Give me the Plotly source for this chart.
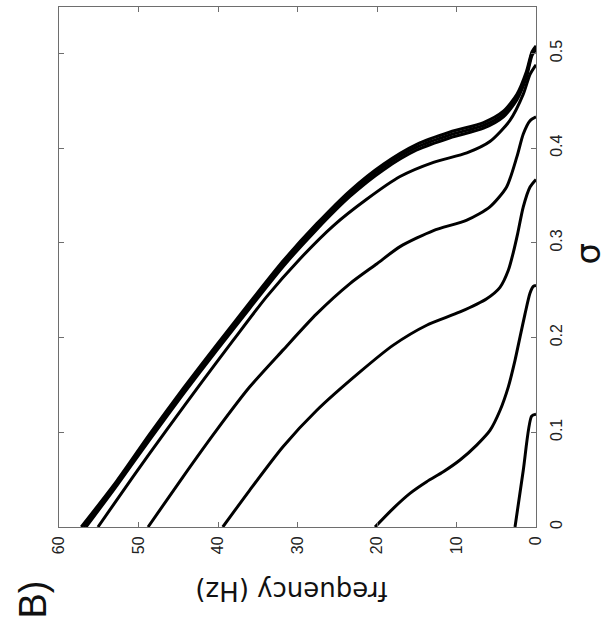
import plotly.graph_objects as go

# Frequency (Hz) vs sigma for eight curves
sigma_1 = [0.000, 0.049, 0.098, 0.146, 0.192, 0.237, 0.281, 0.320, 0.355, 0.383, 0.404, 0.417, 0.427, 0.439, 0.457, 0.481, 0.502, 0.508]
freq_1 = [57.2, 52.7, 48.6, 44.4, 40.2, 36.0, 31.8, 27.6, 23.4, 19.2, 15.0, 10.8, 6.6, 4.1, 2.4, 1.2, 0.5, 0.0]

sigma_2 = [0.000, 0.047, 0.095, 0.143, 0.189, 0.234, 0.278, 0.317, 0.352, 0.380, 0.401, 0.414, 0.424, 0.436, 0.454, 0.478, 0.500, 0.506]
freq_2 = [56.9, 52.7, 48.6, 44.4, 40.2, 36.0, 31.8, 27.6, 23.4, 19.2, 15.0, 10.8, 6.6, 4.1, 2.4, 1.2, 0.5, 0.0]

sigma_3 = [0.000, 0.044, 0.092, 0.140, 0.186, 0.231, 0.275, 0.314, 0.349, 0.377, 0.398, 0.411, 0.421, 0.433, 0.451, 0.475, 0.498, 0.504]
freq_3 = [56.6, 52.7, 48.6, 44.4, 40.2, 36.0, 31.8, 27.6, 23.4, 19.2, 15.0, 10.8, 6.6, 4.1, 2.4, 1.2, 0.5, 0.0]

sigma_4 = [0.000, 0.053, 0.102, 0.150, 0.197, 0.243, 0.283, 0.318, 0.346, 0.370, 0.385, 0.395, 0.407, 0.429, 0.457, 0.478, 0.488]
freq_4 = [55.1, 50.7, 46.5, 42.3, 38.1, 33.9, 29.7, 25.5, 21.3, 17.1, 12.9, 8.7, 5.8, 3.3, 1.6, 0.75, 0.0]

sigma_5 = [0.000, 0.053, 0.102, 0.148, 0.187, 0.225, 0.257, 0.278, 0.296, 0.313, 0.324, 0.338, 0.359, 0.391, 0.415, 0.429, 0.433]
freq_5 = [48.8, 44.4, 40.2, 36.0, 31.8, 27.6, 23.4, 20.0, 17.1, 12.9, 8.7, 5.8, 3.7, 2.4, 1.6, 0.75, 0.0]

sigma_6 = [0.000, 0.039, 0.085, 0.123, 0.164, 0.192, 0.213, 0.227, 0.241, 0.253, 0.271, 0.290, 0.310, 0.338, 0.359, 0.367]
freq_6 = [39.4, 36.0, 31.8, 27.6, 22.1, 17.95, 13.75, 9.56, 6.2, 4.53, 3.48, 2.85, 2.3, 1.6, 0.75, 0.0]

sigma_7 = [0.000, 0.0197, 0.0355, 0.0478, 0.0583, 0.0707, 0.0865, 0.102, 0.123, 0.148, 0.176, 0.201, 0.225, 0.247, 0.254, 0.255]
freq_7 = [20.25, 17.95, 15.85, 13.75, 11.66, 9.56, 7.46, 5.79, 4.53, 3.48, 2.64, 2.0, 1.38, 0.75, 0.34, 0.0]

sigma_8 = [0.000, 0.060, 0.117, 0.119]
freq_8 = [2.64, 1.6, 0.55, 0.0]

curves = [
    (sigma_1, freq_1), (sigma_2, freq_2), (sigma_3, freq_3), (sigma_4, freq_4),
    (sigma_5, freq_5), (sigma_6, freq_6), (sigma_7, freq_7), (sigma_8, freq_8),
]

freq_ticks = [0, 10, 20, 30, 40, 50, 60]
sigma_ticks = [0, 0.1, 0.2, 0.3, 0.4, 0.5]
sigma_tick_labels = ["0", "0.1", "0.2", "0.3", "0.4", "0.5"]

fig = go.Figure()
for s, f in curves:
    fig.add_trace(go.Scatter(
        x=f, y=s, mode="lines",
        line=dict(color="black", width=3, shape="spline", smoothing=0.7),
        showlegend=False, hoverinfo="skip",
    ))

frame = "#6e6e6e"
tickfont = dict(family="Liberation Sans, Arial, sans-serif", size=16, color="#222")

fig.update_layout(
    width=605, height=633,
    margin=dict(l=59, r=69, t=7, b=106),
    paper_bgcolor="white", plot_bgcolor="white",
    hovermode=False,
    xaxis=dict(
        range=[60, 0], tickvals=freq_ticks, ticktext=[str(v) for v in freq_ticks],
        tickangle=-90, ticks="inside", ticklen=5, tickcolor=frame,
        showline=True, linecolor=frame, linewidth=1, mirror="ticks",
        showgrid=False, zeroline=False, tickfont=tickfont,
        ticklabelstandoff=2,
    ),
    yaxis=dict(
        range=[0, 0.549], tickvals=sigma_ticks, ticktext=sigma_tick_labels,
        side="right", tickangle=-90, ticks="inside", ticklen=5, tickcolor=frame,
        showline=True, linecolor=frame, linewidth=1, mirror="ticks",
        showgrid=False, zeroline=False, tickfont=tickfont,
        ticklabelstandoff=6,
    ),
    annotations=[
        dict(text="frequency (Hz)", x=0.488, y=-0.123, xref="paper", yref="paper",
             xanchor="center", yanchor="middle", textangle=180, showarrow=False,
             font=dict(family="DejaVu Sans, sans-serif", size=26, color="#111")),
        dict(text="σ", x=1.108, y=0.525, xref="paper", yref="paper",
             xanchor="center", yanchor="middle", textangle=-90, showarrow=False,
             font=dict(family="DejaVu Sans, sans-serif", size=34, color="#111")),
        dict(text="B)", x=-0.055, y=-0.14, xref="paper", yref="paper",
             xanchor="center", yanchor="middle", textangle=-90, showarrow=False,
             font=dict(family="Liberation Sans, Arial, sans-serif", size=38, color="#111")),
    ],
)

fig.write_html("out.html", config={"displayModeBar": False},
               post_script="document.body.style.margin='0px';")
